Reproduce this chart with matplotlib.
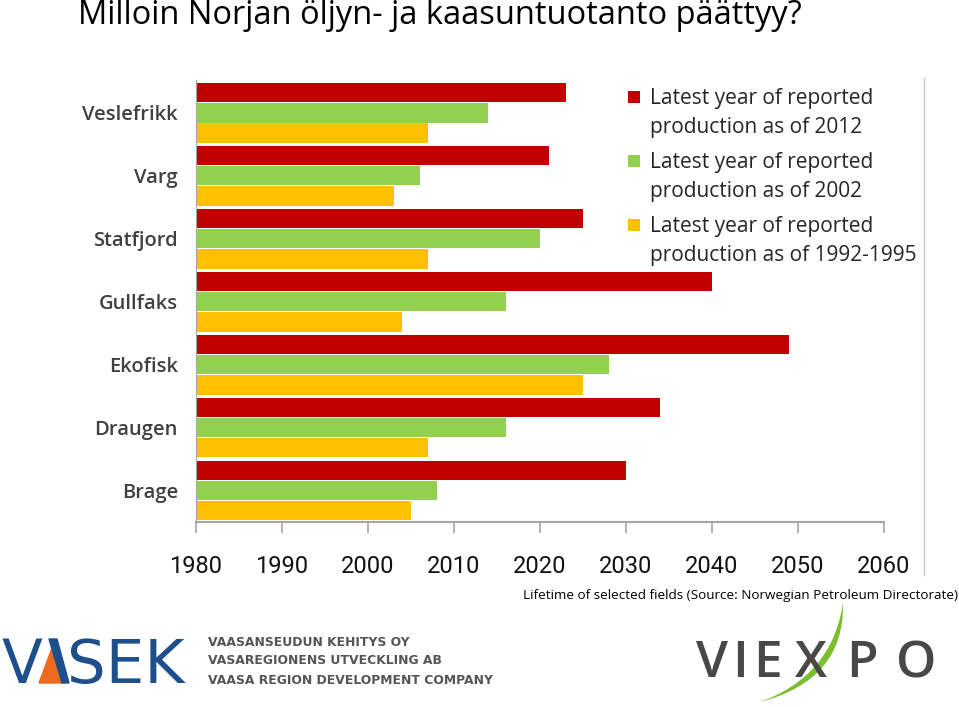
import matplotlib
matplotlib.use("Agg")
import matplotlib.pyplot as plt
import numpy as np
from matplotlib.patches import PathPatch, Rectangle, Polygon
from matplotlib.path import Path
from matplotlib.lines import Line2D

fields = ["Veslefrikk", "Varg", "Statfjord", "Gullfaks", "Ekofisk", "Draugen", "Brage"]
year_2012 = [2023, 2021, 2025, 2040, 2049, 2034, 2030]
year_2002 = [2014, 2006, 2020, 2016, 2028, 2016, 2008]
year_1992_95 = [2007, 2003, 2007, 2004, 2025, 2007, 2005]
series_labels = [
    "Latest year of reported\nproduction as of 2012",
    "Latest year of reported\nproduction as of 2002",
    "Latest year of reported\nproduction as of 1992-1995",
]
colors = ["#C00000", "#92D050", "#FFC000"]
xticks = list(range(1980, 2061, 10))
base_year = 1980

W, H = 959, 707
fig = plt.figure(figsize=(W / 100, H / 100), dpi=100)


def fx(px):
    return px / W


def fy(py):
    return 1 - py / H


ax = fig.add_axes([fx(196), fy(522), fx(884) - fx(196), fy(80) - fy(522)])

y = np.arange(len(fields))
h = 0.31
off = 0.32
for i, (vals, c) in enumerate(zip([year_2012, year_2002, year_1992_95], colors)):
    widths = [v - base_year for v in vals]
    ax.barh(y + (i - 1) * off, widths, left=base_year, height=h, color=c,
            edgecolor="none")

ax.set_xlim(1980, 2060)
ax.set_ylim(6.5, -0.52)
ax.set_xticks(xticks)
ax.set_xticklabels([str(t) for t in xticks], family=["Roboto", "DejaVu Sans"],
                   fontsize=17, color="#111111")
ax.tick_params(axis="x", length=8, width=1.2, color="#a6a6a6", pad=16)
ax.set_yticks(y)
ax.set_yticklabels(fields, family=["Open Sans", "DejaVu Sans"], fontsize=14.5,
                   fontweight="semibold", color="#404040")
ax.tick_params(axis="y", length=0, pad=13)
for s in ["top", "right"]:
    ax.spines[s].set_visible(False)
ax.spines["left"].set_color("#a6a6a6")
ax.spines["bottom"].set_color("#a6a6a6")
ax.spines["bottom"].set_linewidth(1.5)

# legend, square aligned with the first line of each entry
for k, (lab, c) in enumerate(zip(series_labels, colors)):
    yc = 97 + 64 * k
    fig.add_artist(Rectangle((fx(628), fy(yc + 6)), fx(12), fy(0) - fy(12),
                             facecolor=c, edgecolor="none", transform=fig.transFigure))
    fig.text(fx(650), fy(yc - 9), lab, family=["Open Sans", "DejaVu Sans"],
             fontsize=15, va="top", ha="left", linespacing=1.48, color="#262626",
             fontweight="medium")

# border of the embedded chart picture
fig.add_artist(Line2D([fx(924), fx(924)], [fy(78), fy(575)], color="#c8c8c8", lw=1))

fig.text(fx(78), fy(16), "Milloin Norjan öljyn- ja kaasuntuotanto päättyy?",
         family=["Open Sans", "DejaVu Sans"], fontsize=23.5, va="center", ha="left")
fig.text(fx(958), fy(596),
         "Lifetime of selected fields (Source: Norwegian Petroleum Directorate)",
         family=["Open Sans", "DejaVu Sans"], fontsize=9.7, va="center", ha="right")

# VASEK logo
blue = "#1d4f8c"
fig.text(fx(2), fy(683), "V", color=blue, fontsize=43, family="DejaVu Sans",
         va="baseline", ha="left")
fig.add_artist(Polygon([[fx(39), fy(683)], [fx(52), fy(648)], [fx(62), fy(683)]],
                       closed=True, color="#ee6a1e", transform=fig.transFigure))
fig.add_artist(Polygon([[fx(49), fy(639)], [fx(57), fy(639)], [fx(69), fy(683)],
                        [fx(62), fy(683)]],
                       closed=True, color=blue, transform=fig.transFigure))
fig.text(fx(67), fy(683), "SEK", color=blue, fontsize=44, family="DejaVu Sans",
         va="baseline", ha="left")
for k, line in enumerate(["VAASANSEUDUN KEHITYS OY",
                          "VASAREGIONENS UTVECKLING AB",
                          "VAASA REGION DEVELOPMENT COMPANY"]):
    fig.text(fx(208), fy(642 + 19 * k), line, color="#555555", fontsize=8.9,
             fontweight="bold", family="DejaVu Sans", va="center", ha="left")

# viexpo logo
grey = "#4a4846"
for ch, xc in zip("VIEXPO", [712, 740, 767, 811, 862, 916]):
    fig.text(fx(xc), fy(677), ch, color=grey, fontsize=37,
             family=["Open Sans", "DejaVu Sans"],
             fontweight="semibold", va="baseline", ha="center")
verts = [(fx(843), fy(603)), (fx(845), fy(680)), (fx(760), fy(702)),
         (fx(832), fy(676)), (fx(843), fy(603)), (fx(843), fy(603))]
codes = [Path.MOVETO, Path.CURVE3, Path.CURVE3, Path.CURVE3, Path.CURVE3,
         Path.CLOSEPOLY]
fig.add_artist(PathPatch(Path(verts, codes), facecolor="#7cbf2e", edgecolor="none",
                         transform=fig.transFigure))

fig.savefig("out.png", dpi=100)
